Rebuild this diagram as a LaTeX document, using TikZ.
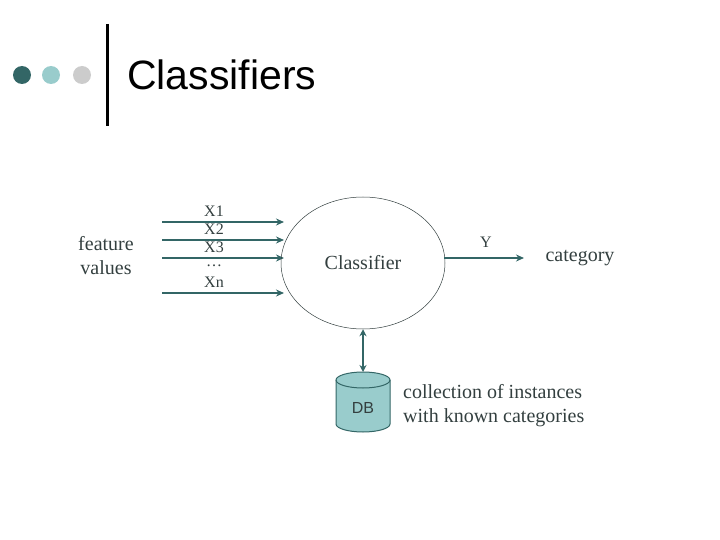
\documentclass[tikz,border=0pt]{standalone}
\usepackage{fontspec}
\setmainfont{Liberation Serif}
\newfontfamily\sansf{Liberation Sans}
\usetikzlibrary{shapes.geometric,arrows.meta}
\definecolor{dteal}{HTML}{336666}
\definecolor{lteal}{HTML}{99CCCC}
\definecolor{lgray}{HTML}{CCCCCC}
\definecolor{txt}{HTML}{333F3F}
\begin{document}
\begin{tikzpicture}[x=1pt,y=-1pt,
  arr/.style={draw=dteal,line width=1.8pt,-{Stealth[length=8pt,width=7pt]}},
  lab/.style={text=txt,font=\fontsize{20}{24}\selectfont,inner sep=0pt},
  xl/.style={text=txt,font=\fontsize{16}{17}\selectfont,inner sep=0pt}]
\useasboundingbox (0,0) rectangle (720,540);
\fill[dteal] (22,75) circle (9);
\fill[lteal] (51,75) circle (9);
\fill[lgray] (82,75) circle (9);
\draw[line width=3pt] (107,24) -- (107,126);
\node[anchor=base west,inner sep=0pt,font=\sansf\fontsize{41}{44}\selectfont] (title) at (127,90) {Classifiers};
\node[lab,align=center] (fv) at (106,256) {feature\\values};
\foreach \y/\n/\t in {222/1/X1,240/2/X2,258/3/X3,293/n/Xn}{
  \coordinate (s\n) at (162,\y);
  \coordinate (e\n) at (284,\y);
  \draw[arr] (s\n) -- (e\n);
  \node[xl] (l\n) at (214,\y-11) {\t};
}
\node[xl] (ld) at (214,266) {\dots};
\node[ellipse,draw=txt,line width=0.5pt,minimum width=164pt,minimum height=132pt] (cl) at (363,263) {};
\node[lab] (clt) at (363,263) {Classifier};
\coordinate (dbt) at (363,372);
\filldraw[draw=dteal,fill=lteal,line width=1pt] (336,380) -- (336,424) arc[start angle=180,end angle=0,x radius=27,y radius=8] -- (390,380) arc[start angle=0,end angle=-180,x radius=27,y radius=8] -- cycle;
\draw[dteal,line width=1pt] (336,380) arc[start angle=180,end angle=0,x radius=27,y radius=8];
\node[text=txt,font=\sansf\fontsize{16}{18}\selectfont] (db) at (363,408) {DB};
\draw[draw=dteal,line width=1.8pt,{Stealth[length=7pt,width=7pt]}-{Stealth[length=7pt,width=7pt]}] (cl.south) -- (dbt);
\coordinate (ys) at (444,258);
\coordinate (ye) at (524,258);
\draw[arr] (ys) -- (ye);
\node[xl] (yl) at (486,242) {Y};
\node[lab] (cat) at (580,258) {category};
\node[lab,align=left,anchor=west] (coll) at (403,406) {collection of instances\\with known categories};
\end{tikzpicture}
\end{document}
